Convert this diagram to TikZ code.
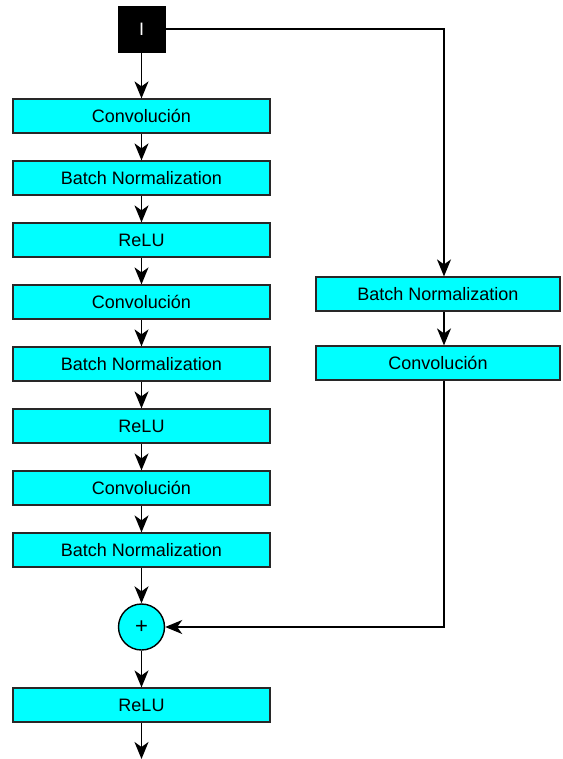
\documentclass[tikz,border=0pt]{standalone}
\usepackage{fontspec}
\setmainfont{Liberation Sans}
\usetikzlibrary{arrows.meta}
\definecolor{boxfill}{RGB}{0,255,255}
\definecolor{boxline}{RGB}{40,40,40}
\begin{document}
\begin{tikzpicture}[x=1pt,y=-1pt,
  layer/.style={draw=boxline, line width=1.2pt, fill=boxfill, rectangle,
    minimum height=34pt, inner sep=0pt, font=\fontsize{18}{21}\selectfont},
  leftlayer/.style={layer, minimum width=257pt},
  rightlayer/.style={layer, minimum width=244pt},
  flow/.style={line width=1.6pt, -{Stealth[length=17pt,width=14pt,inset=5pt]}},
  plain/.style={line width=1.6pt}]
\useasboundingbox (0,0) rectangle (562,759);

% input
\node[fill=black, draw=black, minimum width=47pt, minimum height=46pt, inner sep=0pt,
  text=white, font=\fontsize{18}{21}\selectfont] (in) at (141.5,29) {I};

% main branch
\node[leftlayer] (c1) at (141.5,116) {Convolución};
\node[leftlayer] (b1) at (141.5,178) {Batch Normalization};
\node[leftlayer] (r1) at (141.5,240) {ReLU};
\node[leftlayer] (c2) at (141.5,302) {Convolución};
\node[leftlayer] (b2) at (141.5,364) {Batch Normalization};
\node[leftlayer] (r2) at (141.5,426) {ReLU};
\node[leftlayer] (c3) at (141.5,488) {Convolución};
\node[leftlayer] (b3) at (141.5,550) {Batch Normalization};
\node[circle, draw=black, line width=1.4pt, fill=boxfill, minimum size=46pt, inner sep=0pt,
  font=\fontsize{22}{24}\selectfont] (sum) at (141.5,627) {+};
\node[leftlayer] (r3) at (141.5,705) {ReLU};
\coordinate (out) at (141.5,759);

% shortcut branch
\node[rightlayer] (sb) at (438,294) {Batch Normalization};
\node[rightlayer] (sc) at (438,363) {Convolución};
\coordinate (k1) at (444,29);
\coordinate (k2) at (444,627);

\draw[flow] (in) -- (c1);
\draw[flow] (c1) -- (b1);
\draw[flow] (b1) -- (r1);
\draw[flow] (r1) -- (c2);
\draw[flow] (c2) -- (b2);
\draw[flow] (b2) -- (r2);
\draw[flow] (r2) -- (c3);
\draw[flow] (c3) -- (b3);
\draw[flow] (b3) -- (sum);
\draw[flow] (sum) -- (r3);
\draw[flow] (r3) -- (out);

\draw[flow] (in.east) -- (k1) -- (k1 |- sb.north);
\draw[flow] (k1 |- sb.south) -- (k1 |- sc.north);
\draw[flow] (k1 |- sc.south) -- (k2) -- (sum.east);
\end{tikzpicture}
\end{document}
